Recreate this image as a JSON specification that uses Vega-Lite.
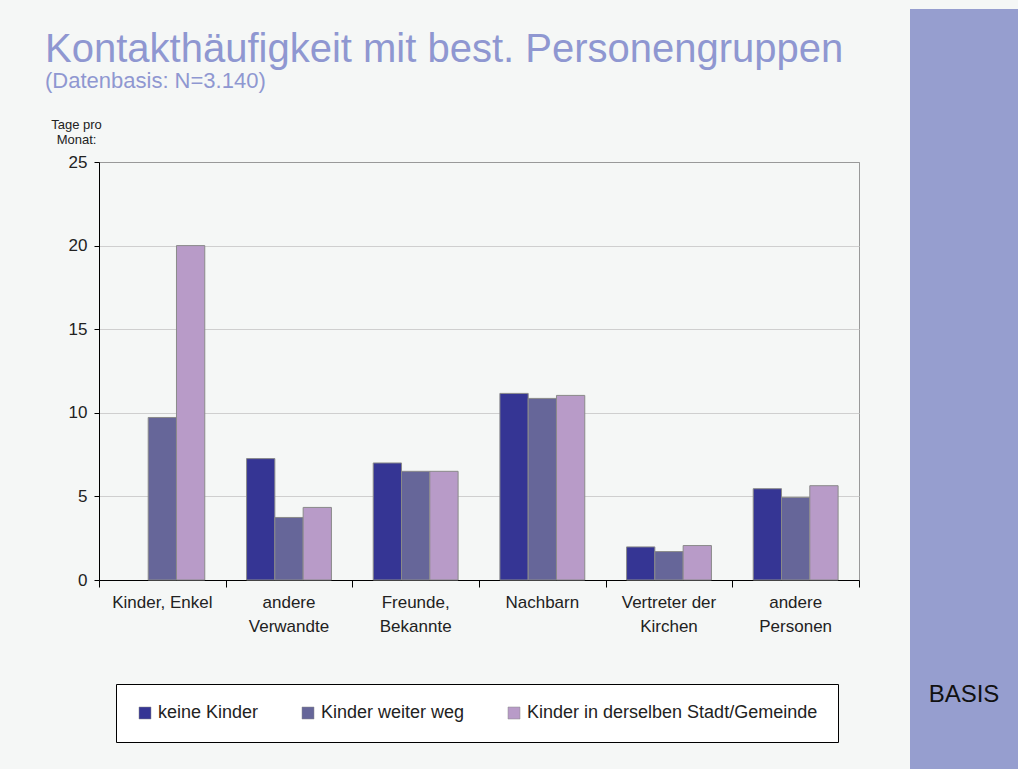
{
  "$schema": "https://vega.github.io/schema/vega-lite/v6.json",
  "background": "#f5f7f6",
  "padding": {"left": 45, "top": 9, "right": 0, "bottom": 0},
  "config": {"font": "Liberation Sans", "view": {"stroke": null}},
  "spacing": 50,
  "resolve": {"legend": {"color": "independent"}},
  "hconcat": [
    {
      "spacing": 13,
      "resolve": {"legend": {"color": "independent"}},
      "vconcat": [
        {
          "width": 760,
          "height": 95,
          "data": {"values": []},
          "mark": "point",
          "encoding": {},
          "title": {
            "text": "Kontakthäufigkeit mit best. Personengruppen",
            "subtitle": "(Datenbasis: N=3.140)",
            "orient": "top",
            "anchor": "start",
            "frame": "group",
            "dx": -54,
            "offset": -83,
            "fontSize": 40,
            "fontWeight": "normal",
            "color": "#8f97d1",
            "subtitleFontSize": 22,
            "subtitleColor": "#8f97d1",
            "subtitlePadding": 1
          }
        },
        {
          "width": 760,
          "height": 418,
          "view": {"stroke": "#999999", "strokeWidth": 1},
          "data": {
            "values": [
              {"gruppe": "Kinder, Enkel", "kinder": "Kinder weiter weg", "tage": 9.72},
              {"gruppe": "Kinder, Enkel", "kinder": "Kinder in derselben Stadt/Gemeinde", "tage": 20.0},
              {"gruppe": "andere Verwandte", "kinder": "keine Kinder", "tage": 7.26},
              {"gruppe": "andere Verwandte", "kinder": "Kinder weiter weg", "tage": 3.74},
              {"gruppe": "andere Verwandte", "kinder": "Kinder in derselben Stadt/Gemeinde", "tage": 4.34},
              {"gruppe": "Freunde, Bekannte", "kinder": "keine Kinder", "tage": 7.0},
              {"gruppe": "Freunde, Bekannte", "kinder": "Kinder weiter weg", "tage": 6.5},
              {"gruppe": "Freunde, Bekannte", "kinder": "Kinder in derselben Stadt/Gemeinde", "tage": 6.5},
              {"gruppe": "Nachbarn", "kinder": "keine Kinder", "tage": 11.16},
              {"gruppe": "Nachbarn", "kinder": "Kinder weiter weg", "tage": 10.86},
              {"gruppe": "Nachbarn", "kinder": "Kinder in derselben Stadt/Gemeinde", "tage": 11.04},
              {"gruppe": "Vertreter der Kirchen", "kinder": "keine Kinder", "tage": 1.98},
              {"gruppe": "Vertreter der Kirchen", "kinder": "Kinder weiter weg", "tage": 1.7},
              {"gruppe": "Vertreter der Kirchen", "kinder": "Kinder in derselben Stadt/Gemeinde", "tage": 2.06},
              {"gruppe": "andere Personen", "kinder": "keine Kinder", "tage": 5.46},
              {"gruppe": "andere Personen", "kinder": "Kinder weiter weg", "tage": 4.94},
              {"gruppe": "andere Personen", "kinder": "Kinder in derselben Stadt/Gemeinde", "tage": 5.64}
            ]
          },
          "layer": [
            {
              "mark": {"type": "bar", "stroke": "#8a8a8a", "strokeWidth": 1},
              "encoding": {
                "x": {
                  "field": "gruppe",
                  "type": "nominal",
                  "sort": null,
                  "scale": {"paddingInner": 0.33, "paddingOuter": 0.165},
                  "axis": {
                    "orient": "bottom",
                    "title": null,
                    "ticks": false,
                    "domainColor": "#000000",
                    "labelAngle": 0,
                    "labelFontSize": 17,
                    "labelColor": "#222222",
                    "labelPadding": 14,
                    "labelBaseline": "top",
                    "labelLineHeight": 24,
                    "labelLimit": 200,
                    "labelExpr": "datum.value == 'Kinder, Enkel' || datum.value == 'Nachbarn' ? datum.value : datum.value == 'Vertreter der Kirchen' ? ['Vertreter der', 'Kirchen'] : split(datum.value, ' ')"
                  }
                },
                "xOffset": {
                  "field": "kinder",
                  "type": "nominal",
                  "scale": {"domain": ["keine Kinder", "Kinder weiter weg", "Kinder in derselben Stadt/Gemeinde"]}
                },
                "y": {
                  "field": "tage",
                  "type": "quantitative",
                  "scale": {"domain": [0, 25], "nice": false},
                  "axis": {
                    "values": [0, 5, 10, 15, 20, 25],
                    "title": ["Tage pro", "Monat:"],
                    "titleAngle": 0,
                    "titleAlign": "center",
                    "titleBaseline": "top",
                    "titleX": -23,
                    "titleY": -44,
                    "titleFontSize": 13,
                    "titleFontWeight": "normal",
                    "titleColor": "#222222",
                    "titleLineHeight": 15,
                    "labelFontSize": 17,
                    "labelColor": "#222222",
                    "labelPadding": 7,
                    "tickSize": 5,
                    "tickColor": "#000000",
                    "domainColor": "#000000",
                    "grid": true,
                    "gridColor": {"condition": {"test": "datum.value == 25", "value": "#999999"}, "value": "#cfcfcf"}
                  }
                },
                "color": {
                  "field": "kinder",
                  "type": "nominal",
                  "scale": {
                    "domain": ["keine Kinder", "Kinder weiter weg", "Kinder in derselben Stadt/Gemeinde"],
                    "range": ["#353594", "#666699", "#b89bc8"]
                  },
                  "legend": {
                    "orient": "none",
                    "legendX": 17,
                    "legendY": 522,
                    "direction": "horizontal",
                    "title": null,
                    "fillColor": "#ffffff",
                    "strokeColor": "#000000",
                    "padding": 20,
                    "columnPadding": 40,
                    "labelFontSize": 18,
                    "labelColor": "#222222",
                    "labelOffset": 4,
                    "labelLimit": 400,
                    "symbolType": "square",
                    "symbolSize": 144,
                    "symbolStrokeColor": "#8a8a8a",
                    "symbolStrokeWidth": 0.5,
                    "symbolOpacity": 1
                  }
                }
              }
            },
            {
              "data": {"values": []},
              "mark": "point",
              "encoding": {
                "x": {
                  "field": "grenze",
                  "type": "quantitative",
                  "scale": {"domain": [0, 6], "nice": false, "zero": false},
                  "axis": {
                    "orient": "bottom",
                    "values": [0, 1, 2, 3, 4, 5, 6],
                    "labels": false,
                    "domain": false,
                    "grid": false,
                    "ticks": true,
                    "tickColor": "#000000",
                    "tickSize": 7,
                    "title": null
                  }
                }
              }
            }
          ],
          "resolve": {"scale": {"x": "independent"}, "axis": {"x": "independent"}}
        }
      ]
    },
    {
      "width": 108,
      "height": 760,
      "view": {"fill": "#969ecf", "stroke": null},
      "data": {"values": []},
      "mark": "point",
      "encoding": {},
      "title": {
        "text": "BASIS",
        "orient": "bottom",
        "anchor": "middle",
        "offset": -86,
        "fontSize": 24,
        "fontWeight": "normal",
        "color": "#111111"
      }
    }
  ]
}
